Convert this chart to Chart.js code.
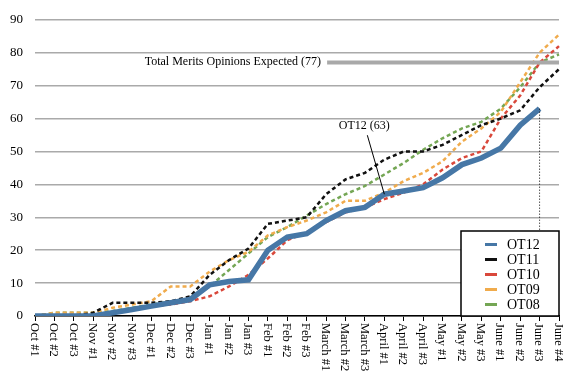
<!DOCTYPE html>
<html>
<head>
<meta charset="utf-8">
<script src="https://cdn.jsdelivr.net/npm/chart.js@4.4.1/dist/chart.umd.min.js"></script>
<style>
  body { margin: 0; background: #fff; }
  #wrap { width: 580px; height: 385px; }
</style>
</head>
<body>
<div id="wrap"><canvas id="opinionsChart" width="580" height="385"></canvas></div>
<script>
// Categories (weeks of the term)
const categories = ["Oct #1", "Oct #2", "Oct #3", "Nov #1", "Nov #2", "Nov #3", "Dec #1", "Dec #2", "Dec #3",
  "Jan #1", "Jan #2", "Jan #3", "Feb #1", "Feb #2", "Feb #3", "March #1", "March #2", "March #3",
  "April #1", "April #2", "April #3", "May #1", "May #2", "May #3", "June #1", "June #2", "June #3", "June #4"];

// Cumulative merits opinions per term
const ot12 = [0, 0, 0, 0, 1, 2, 3, 4, 5, 9.5, 10.5, 11, 20, 24, 25, 29, 32, 33, 37, 38, 39, 42, 46, 48, 51, 58, 63, null];
const ot11 = [0, 0, 0, 1, 4, 4, 4, 4.5, 6, 12.5, 17, 20.5, 28, 29, 30, 37, 41.5, 43.5, 47.5, 50, 50, 52, 55, 58, 60, 62.5, 69.5, 75];
const ot10 = [0, 0, 0, 0, 1, 2, 3, 3.5, 4.5, 6, 9, 12.5, 17.5, 23, 25.5, 28.5, 31.5, 33, 35.5, 37.5, 40, 44.5, 48, 50, 60, 67, 77, 82];
const ot09 = [0, 1, 1, 1, 2.5, 3.5, 4.5, 9, 9, 13.5, 17, 19.5, 24.5, 27, 29, 31.5, 35, 35, 37.5, 41, 43.5, 47, 53, 57, 62, 71, 80, 85.5];
const ot08 = [0, 1, 1, 1, 1.5, 2.5, 3.5, 4.5, 5, 9, 14, 19, 24, 27, 30.5, 34, 37, 39.5, 43, 46.5, 50.5, 54, 57, 59, 63, 69.5, 77, 79.5];

// Y tick labels
const yTicks = [0, 10, 20, 30, 40, 50, 60, 70, 80, 90];

// Annotations
const expectedTotal = 77;
const expectedLabel = "Total Merits Opinions Expected (77)";
const calloutLabel = "OT12 (63)";

const serif = '"Liberation Serif", "Times New Roman", serif';
Chart.defaults.font.family = serif;
Chart.defaults.color = "#000";

function series(label, data, color, width, dashed) {
  return {
    label: label,
    data: data,
    borderColor: color,
    backgroundColor: color,
    borderWidth: width,
    borderDash: dashed ? [4, 3] : [],
    pointRadius: 0,
    tension: 0,
    fill: false
  };
}

const data = {
  labels: categories,
  datasets: [
    series("OT12", ot12, "#4677a6", 5.5, false),
    series("OT11", ot11, "#111111", 2.5, true),
    series("OT10", ot10, "#d9483b", 2.5, true),
    series("OT09", ot09, "#f0ab4c", 2.5, true),
    series("OT08", ot08, "#74a654", 2.5, true)
  ]
};

// draws rotated x labels, reference lines, callout and legend
const extras = {
  id: "extras",
  afterDraw(chart) {
    const ctx = chart.ctx;
    const x = chart.scales.x;
    const y = chart.scales.y;
    const area = chart.chartArea;

    ctx.save();
    // x labels reading downward
    ctx.font = "12.5px " + serif;
    ctx.fillStyle = "#000";
    ctx.textAlign = "left";
    ctx.textBaseline = "middle";
    categories.forEach((c, i) => {
      ctx.save();
      ctx.translate(x.getPixelForTick(i) - 1, area.bottom + 7);
      ctx.rotate(Math.PI / 2);
      ctx.fillText(c, 0, 0);
      ctx.restore();
    });

    // expected total line
    const yExp = y.getPixelForValue(expectedTotal);
    const xStart = x.getPixelForValue(15);
    ctx.strokeStyle = "#a9a9a9";
    ctx.lineWidth = 4;
    ctx.beginPath();
    ctx.moveTo(xStart + 1, yExp);
    ctx.lineTo(area.right, yExp);
    ctx.stroke();
    ctx.font = "12px " + serif;
    ctx.textAlign = "right";
    ctx.fillText(expectedLabel, xStart - 5, yExp - 1);

    // callout for OT12
    const px = x.getPixelForValue(18);
    const py = y.getPixelForValue(ot12[18]);
    ctx.strokeStyle = "#000";
    ctx.lineWidth = 1;
    ctx.beginPath();
    ctx.moveTo(px - 17, py - 59);
    ctx.lineTo(px, py);
    ctx.stroke();
    ctx.textAlign = "center";
    ctx.fillText(calloutLabel, px - 20, py - 68);

    // dotted drop line from last OT12 point
    const lx = x.getPixelForValue(26);
    ctx.setLineDash([1, 2]);
    ctx.beginPath();
    ctx.moveTo(lx, y.getPixelForValue(ot12[26]));
    ctx.lineTo(lx, area.bottom);
    ctx.stroke();
    ctx.setLineDash([]);

    // legend box
    const bx = 461, bw = area.right - 461, bh = 85, by = area.bottom - bh;
    ctx.fillStyle = "#fff";
    ctx.fillRect(bx, by, bw, bh);
    ctx.strokeStyle = "#000";
    ctx.lineWidth = 1.5;
    ctx.strokeRect(bx, by, bw, bh);
    ctx.font = "14px " + serif;
    ctx.textAlign = "left";
    chart.data.datasets.forEach((ds, i) => {
      const ry = by + 13.5 + i * 15;
      ctx.strokeStyle = ds.borderColor;
      ctx.lineWidth = 3;
      ctx.beginPath();
      ctx.moveTo(bx + 24, ry);
      ctx.lineTo(bx + 36, ry);
      ctx.stroke();
      ctx.fillStyle = "#000";
      ctx.fillText(ds.label, bx + 46, ry + 1);
    });
    ctx.restore();
  }
};

const options = {
  responsive: false,
  animation: false,
  layout: {
    padding: { left: 0, right: 21, top: 13, bottom: 0 }
  },
  scales: {
    x: {
      afterFit(scale) { scale.height = 69; },
      grid: {
        drawOnChartArea: false,
        drawTicks: true,
        tickLength: 5,
        color: "#000",
        lineWidth: 1
      },
      border: { display: true, color: "#000", width: 1.5 },
      ticks: { display: false }
    },
    y: {
      min: 0,
      max: 90,
      afterFit(scale) { scale.width = 35; },
      afterBuildTicks(scale) { scale.ticks = yTicks.map(v => ({ value: v })); },
      grid: { color: "#aaaaaa", lineWidth: 1.5, drawTicks: false },
      border: { display: false },
      ticks: {
        padding: 12,
        font: { size: 13 },
        color: "#000"
      }
    }
  },
  plugins: {
    legend: { display: false },
    tooltip: { enabled: false }
  }
};

new Chart(document.getElementById("opinionsChart").getContext("2d"), {
  type: "line",
  data: data,
  options: options,
  plugins: [extras]
});
</script>
</body>
</html>
